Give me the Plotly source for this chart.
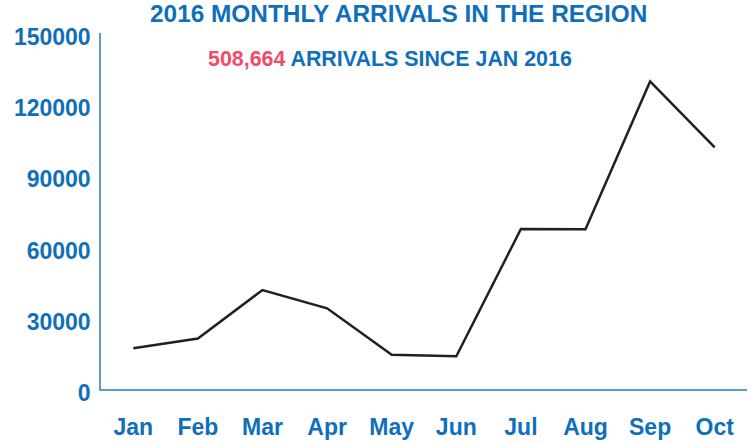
import plotly.graph_objects as go

months = ["Jan", "Feb", "Mar", "Apr", "May", "Jun", "Jul", "Aug", "Sep", "Oct"]
arrivals = [17200, 21300, 41700, 34000, 14400, 13800, 67400, 67300, 129600, 101800]
y_ticks = [0, 30000, 60000, 90000, 120000, 150000]
title_text = "2016 MONTHLY ARRIVALS IN THE REGION"
total_text = "508,664"
subtitle_rest = " ARRIVALS SINCE JAN 2016"

BLUE = "#0F6FBA"
RED = "#EF4B6B"
AXIS = "#5B9BD5"
FONT = "Liberation Sans, Arial, sans-serif"

fig = go.Figure()
fig.add_trace(go.Scatter(
    x=months, y=arrivals, mode="lines",
    line=dict(color="#231F20", width=2.5),
    hoverinfo="skip", showlegend=False,
))

fig.update_layout(
    width=751, height=443,
    margin=dict(l=101, r=4, t=33, b=54),
    paper_bgcolor="white", plot_bgcolor="white",
    xaxis=dict(
        type="category", range=[-0.5, 9.5], automargin=False,
        showline=True, linecolor=AXIS, linewidth=1.5,
        showgrid=False, zeroline=False, ticks="",
        tickfont=dict(family=FONT, size=23, color=BLUE, weight="bold"),
        ticklabelstandoff=17,
    ),
    yaxis=dict(
        range=[0, 150000], tickvals=y_ticks, automargin=False,
        ticktext=[str(v) for v in y_ticks],
        showline=True, linecolor=AXIS, linewidth=1.5,
        showgrid=False, zeroline=False, ticks="",
        tickfont=dict(family=FONT, size=23, color=BLUE, weight="bold"),
        ticklabelstandoff=4, ticklabelshift=4,
    ),
    annotations=[
        dict(text="<b>" + title_text + "</b>", x=0.461, y=1.056,
             xref="paper", yref="paper", xanchor="center", yanchor="middle",
             showarrow=False, font=dict(family=FONT, size=24.4, color=BLUE)),
        dict(text="<b><span style='color:" + RED + "'>" + total_text + "</span>" + subtitle_rest + "</b>",
             x=0.447, y=0.926,
             xref="paper", yref="paper", xanchor="center", yanchor="middle",
             showarrow=False, font=dict(family=FONT, size=21.4, color=BLUE)),
    ],
)

fig.write_html("out.html", config={"displayModeBar": False},
               post_script="document.body.style.margin='0';document.body.style.overflow='hidden';")
